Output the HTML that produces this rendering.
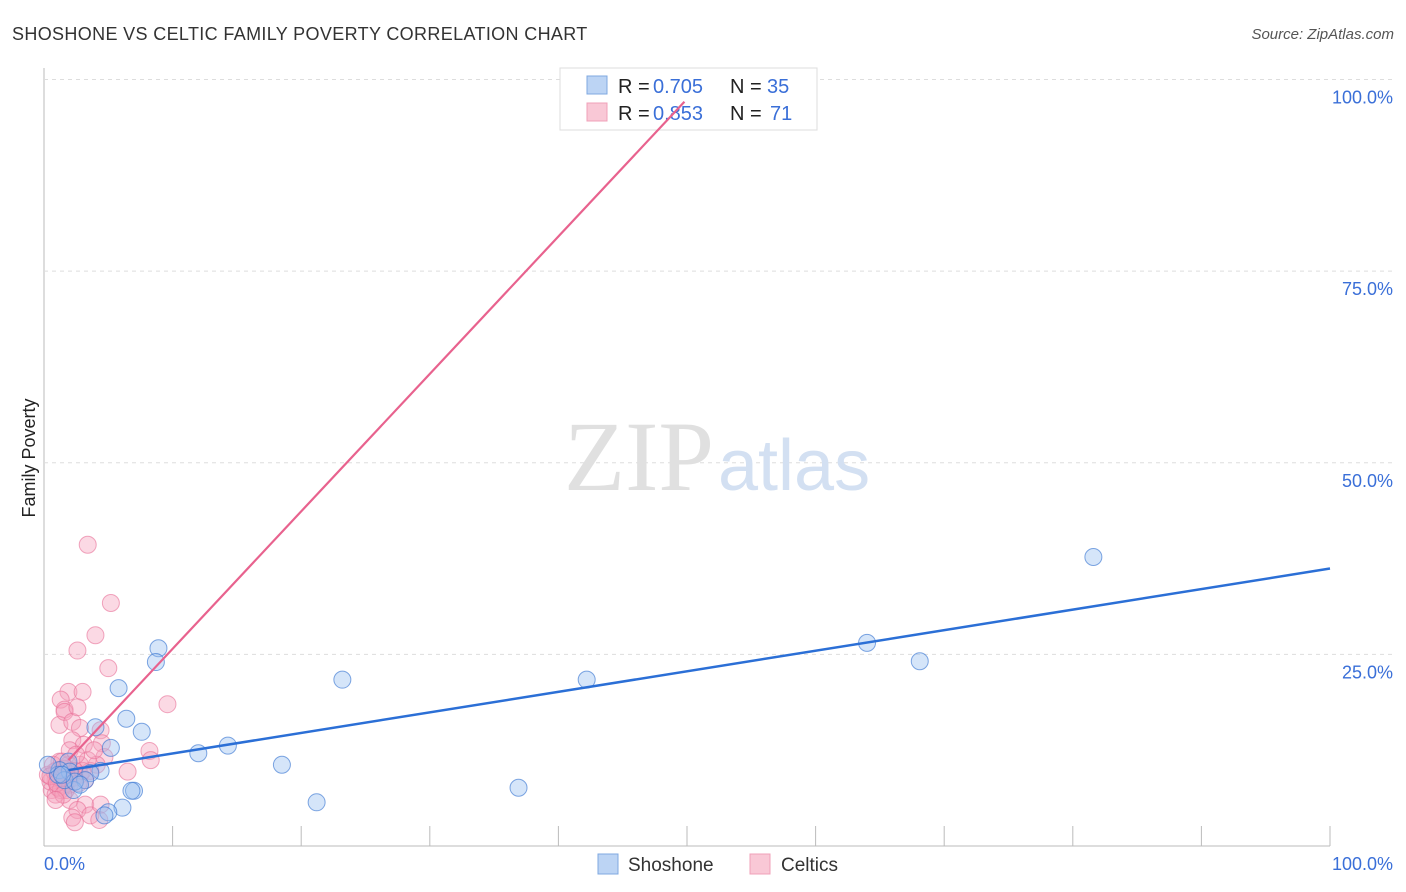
<!DOCTYPE html>
<html><head><meta charset="utf-8"><style>
body{margin:0;background:#fff;font-family:"Liberation Sans",sans-serif}
#c{position:absolute;left:0;top:0}
</style></head><body>
<svg id="c" width="1406" height="892">
<text x="12" y="40" font-size="18" fill="#333" letter-spacing="0.35">SHOSHONE VS CELTIC FAMILY POVERTY CORRELATION CHART</text>
<text x="1394" y="39" font-size="15" fill="#555" font-style="italic" text-anchor="end">Source: ZipAtlas.com</text>
<text x="35" y="458" font-size="18" fill="#222" transform="rotate(-90 35 458)" text-anchor="middle">Family Poverty</text>
<g id="grid"></g>
<text x="714" y="490" font-size="100" fill="#e0e0e0" text-anchor="end" font-family="Liberation Serif">ZIP</text>
<text x="718" y="490" font-size="72" fill="#d3e0f2">atlas</text>
<g id="pts"></g>
<g>
<rect x="560" y="68" width="257" height="62" fill="#fff" stroke="#ddd"/>
<rect x="587" y="76" width="20" height="18" fill="#bcd4f4" stroke="#7fa8e0"/>
<rect x="587" y="103" width="20" height="18" fill="#f9c8d6" stroke="#f0a0b8"/>
<text x="618" y="93" font-size="20" fill="#222">R =</text><text x="653" y="93" font-size="20" fill="#3a6fd8">0.705</text>
<text x="730" y="93" font-size="20" fill="#222">N =</text><text x="767" y="93" font-size="20" fill="#3a6fd8">35</text>
<text x="618" y="120" font-size="20" fill="#222">R =</text><text x="653" y="120" font-size="20" fill="#3a6fd8">0.853</text>
<text x="730" y="120" font-size="20" fill="#222">N =</text><text x="770" y="120" font-size="20" fill="#3a6fd8">71</text>
</g>
<g id="lines"></g>
<g>
<rect x="598" y="854" width="20" height="20" fill="#bcd4f4" stroke="#7fa8e0"/>
<text x="628" y="871" font-size="19" fill="#333">Shoshone</text>
<rect x="750" y="854" width="20" height="20" fill="#f9c8d6" stroke="#f0a0b8"/>
<text x="781" y="871" font-size="19" fill="#333">Celtics</text>
</g>
</svg>
<script>
const yTicks=[25,50,75,100];
const yTickLabels=["25.0%","50.0%","75.0%","100.0%"];
const xTickLabels=["0.0%","100.0%"];
const blueX=[81.6,64.0,68.1,42.2,23.2,36.9,21.2,18.5,14.3,12.0,8.9,8.7,5.8,6.4,7.6,4.0,5.2,4.4,3.6,3.2,2.3,7.0,6.8,6.1,5.0,4.7,1.9,1.2,2.0,1.6,2.4,1.1,2.8,0.3,1.4];
const blueY=[37.7,26.5,24.1,21.7,21.7,7.6,5.7,10.6,13.1,12.1,25.8,24.0,20.6,16.6,14.9,15.5,12.8,9.8,9.5,8.6,7.3,7.2,7.2,5.0,4.4,4.0,11.0,9.9,9.7,8.6,8.4,9.3,8.0,10.6,9.3];
const pinkX=[3.4,5.2,4.0,2.6,5.0,9.6,1.9,3.0,1.3,1.6,1.2,1.6,2.2,2.6,2.8,2.2,3.1,4.4,4.5,4.7,8.2,8.3,6.5,4.1,2.8,2.0,3.2,2.6,3.6,2.2,2.4,4.3,4.4,0.9,0.6,1.0,1.4,1.7,0.5,0.9,1.2,1.6,0.8,1.1,1.9,2.2,0.3,0.7,1.3,1.8,2.4,2.0,1.1,1.5,1.7,0.5,1.0,1.9,2.3,2.8,3.2,3.6,1.5,0.9,2.7,3.0,3.4,3.9,2.0,2.5,1.4];
const pinkY=[39.3,31.7,27.5,25.5,23.2,18.5,20.1,20.1,19.1,17.8,15.8,17.5,16.2,18.1,15.4,13.8,13.2,15.1,13.4,11.6,12.4,11.2,9.7,10.6,10.6,6.0,5.4,4.7,4.0,3.7,3.1,3.4,5.4,8.6,7.3,9.9,9.3,10.1,8.4,6.7,11.0,8.0,9.7,7.6,8.6,9.3,9.3,10.6,7.3,9.5,9.8,8.0,9.0,10.1,7.3,9.1,8.2,10.6,8.9,9.3,8.6,9.8,6.7,6.0,8.2,9.8,11.2,12.5,12.5,11.9,11.0];
const blueLine=[1.9,100];const blueLineY=[9.9,36.2];
const pinkLine=[1.9,49.8];const pinkLineY=[11.2,97.1];
const X=v=>44+v*12.86, Y=v=>846-v*7.665;
const ns="http://www.w3.org/2000/svg";
function mk(t,a,p){const e=document.createElementNS(ns,t);for(const k in a)e.setAttribute(k,a[k]);p.appendChild(e);return e;}
const g=document.getElementById('grid');
mk('line',{x1:44,y1:68,x2:44,y2:846,stroke:'#bbb'},g);
mk('line',{x1:44,y1:846,x2:1330,y2:846,stroke:'#bbb'},g);
yTicks.forEach((t,i)=>{
 const l=mk('line',{x1:44,y1:Y(t),x2:1394,y2:Y(t),stroke:'#ddd','stroke-dasharray':'4,4'},g);
 
 
 const tx=mk('text',{x:1393,y:Y(t)+24,'font-size':18,fill:'#3a6fd8','text-anchor':'end'},g);tx.textContent=yTickLabels[i];
 
 
});
for(let i=1;i<=10;i++){mk('line',{x1:X(i*10),y1:826,x2:X(i*10),y2:846,stroke:'#bbb'},g);}
let t0=mk('text',{x:44,y:870,'font-size':18,fill:'#3a6fd8'},g);t0.textContent=xTickLabels[0];


let t1=mk('text',{x:1393,y:870,'font-size':18,fill:'#3a6fd8','text-anchor':'end'},g);t1.textContent=xTickLabels[1];


const P=document.getElementById('pts');
pinkX.forEach((x,i)=>{const c=mk('circle',{cx:X(x),cy:Y(pinkY[i]),r:8.5,fill:'rgba(246,160,188,0.4)',stroke:'rgba(232,110,150,0.6)'},P);
 
 });
blueX.forEach((x,i)=>{const c=mk('circle',{cx:X(x),cy:Y(blueY[i]),r:8.5,fill:'rgba(150,190,240,0.4)',stroke:'rgba(60,120,210,0.65)'},P);
 
 });
const L=document.getElementById('lines');
const bl=mk('line',{x1:X(blueLine[0]),y1:Y(blueLineY[0]),x2:X(blueLine[1]),y2:Y(blueLineY[1]),stroke:'#2b6fd6','stroke-width':2.5},L);


const pl=mk('line',{x1:X(pinkLine[0]),y1:Y(pinkLineY[0]),x2:X(pinkLine[1]),y2:Y(pinkLineY[1]),stroke:'#e8628e','stroke-width':2.2},L);


</script>
</body></html>
